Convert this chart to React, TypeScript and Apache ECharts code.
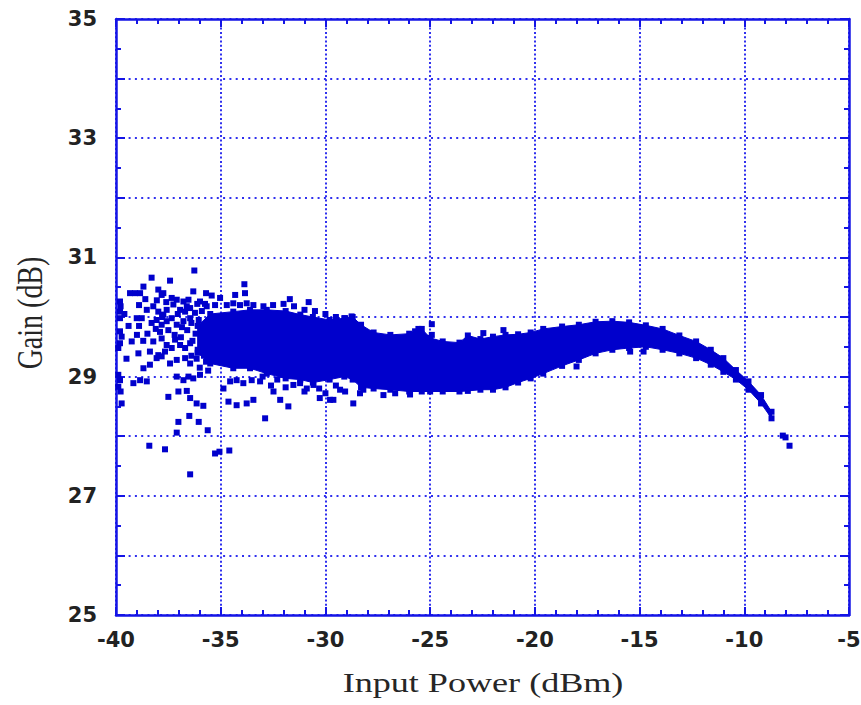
import React, { useEffect, useRef } from "react";
import * as echarts from "echarts";

// Dense core of the measured cloud: upper and lower edges read at each input power
const bandX = [-36.1, -35.5, -34.4, -33.6, -32.8, -31.9, -31.2, -30.6, -29.8, -29.1, -28.7, -28.3, -27.7, -26.9, -26.0, -25.4, -25.0, -24.4, -23.6, -23.2, -22.6, -22.0, -21.4, -20.8, -20.2, -19.6, -18.7, -17.9, -17.1, -16.3, -15.5, -14.7, -13.9, -13.1, -12.3, -11.6, -11.0, -10.4, -9.8, -9.2, -8.7];
const bandUpper = [29.85, 30.05, 30.09, 30.12, 30.12, 30.1, 30.04, 30.0, 29.95, 29.98, 30.0, 29.87, 29.74, 29.7, 29.72, 29.8, 29.65, 29.59, 29.57, 29.69, 29.63, 29.67, 29.7, 29.71, 29.74, 29.8, 29.84, 29.87, 29.92, 29.93, 29.91, 29.86, 29.8, 29.69, 29.59, 29.45, 29.31, 29.11, 28.92, 28.69, 28.41];
const bandLower = [29.4, 29.22, 29.14, 29.14, 29.05, 28.97, 28.95, 28.9, 28.95, 29.0, 28.95, 28.82, 28.8, 28.78, 28.75, 28.75, 28.75, 28.75, 28.75, 28.76, 28.78, 28.78, 28.82, 28.9, 28.97, 29.05, 29.18, 29.28, 29.39, 29.45, 29.48, 29.5, 29.45, 29.39, 29.31, 29.2, 29.08, 28.95, 28.78, 28.55, 28.3];

// Scattered individual measurements (input power dBm, gain dB)
const pointX = [
  -36.26, -38.3, -37.42, -33.87, -38.69, -39.33, -39.09, -38.85, -37.98, -37.74, -37.82, -36.31, -35.7, -35.43, -34.31, -33.84,
  -39.81, -39.78, -39.81, -39.81, -38.53, -38.22, -37.98, -37.74, -37.58, -37.34, -37.1, -36.78, -36.54,
  -36.94, -36.7, -36.46, -36.23, -35.99, -35.67, -35.27, -35.03, -34.71, -34.4, -34.08, -33.76, -33.44, -32.96,
  -39.01, -38.77, -38.3, -38.06, -37.82, -37.58, -37.34, -37.1, -36.78, -36.46,
  -39.81, -39.73, -39.81, -39.89, -39.25, -38.22, -37.82, -37.58, -37.18, -36.94, -36.7, -36.46,
  -38.93, -38.38, -37.98, -37.66, -37.34, -38.69, -38.38, -38.06, -37.82, -37.42, -37.1, -36.7, -36.46,
  -39.89, -39.81, -39.89, -39.78, -39.17, -38.85, -38.53, -37.1, -36.78, -36.54, -36.31, -35.99,
  -39.73, -37.5, -37.02, -36.62, -36.46, -36.15, -35.83,
  -34.87, -34.63, -34.24, -33.76, -33.44, -34.55, -34.24, -33.92, -33.52, -33.12, -32.88,
  -32.48, -32.16, -31.77, -31.53, -31.21, -30.89, -30.57, -30.27, -29.78,
  -37.02, -36.5, -36.05, -35.62, -37.1, -38.41, -37.66, -35.27, -35.06, -34.59, -36.46,
  -29.62, -28.67, -29.3, -29.06, -28.35, -28.19, -27.23, -26.67, -25.96, -25.48,
  -24.92, -25.72, -25.56, -22.46, -21.5, -29.06, -28.75, -29.46, -29.7, -24.92,
  -15.45, -14.81, -18.01, -8.16, -8.03, -7.84,
  -37.26, -37.05, -36.85, -36.62, -36.4, -36.2, -36.05, -36.12,
  -37.5, -37.2, -36.9, -36.6, -36.35, -36.1, -36.15, -36.4,
  -37.9, -38.1, -38.5, -38.7, -39.0, -39.4, -39.6, -39.5,
  -38.9, -38.6, -38.05, -37.6, -37.8, -38.9,
  -35.8, -35.7, -35.9, -35.75, -36.0, -35.6,
  -33.0, -32.6, -32.3, -31.9, -31.0, -30.3, -30.0, -29.5,
  -32.5, -32.0, -31.5, -31.0, -30.5, -30.0, -29.5, -31.7, -30.8,
];
const pointY = [
  30.78, 30.66, 30.61, 30.55, 30.51, 30.4, 30.4, 30.4, 30.46, 30.4, 30.37, 30.43, 30.4, 30.36, 30.37, 30.4,
  30.26, 30.18, 30.09, 29.98, 30.12, 30.18, 30.09, 30.04, 30.12, 30.32, 30.29, 30.26, 30.29,
  30.12, 30.09, 30.15, 30.07, 30.26, 30.18, 30.2, 30.32, 30.2, 30.23, 30.2, 30.23, 30.2, 30.18,
  29.98, 29.98, 29.9, 29.95, 29.87, 29.93, 29.98, 29.87, 29.93, 29.98,
  29.76, 29.67, 29.56, 29.48, 29.59, 29.59, 29.64, 29.53, 29.62, 29.53, 29.48, 29.56,
  29.39, 29.42, 29.36, 29.42, 29.48, 29.14, 29.2, 29.31, 29.34, 29.22, 29.28, 29.31, 29.22,
  29.03, 28.94, 28.83, 28.75, 28.89, 28.94, 28.92, 29.0, 28.94, 29.0, 28.97, 29.03,
  28.55, 28.66, 28.75, 28.76, 28.64, 28.55, 28.51,
  28.8, 28.58, 28.52, 28.55, 28.61, 28.92, 28.94, 28.89, 28.94, 28.92, 28.3,
  28.75, 28.61, 28.5, 28.86, 28.89, 28.8, 28.86, 28.64, 28.61,
  28.24, 28.34, 28.24, 28.1, 28.06, 27.84, 27.78, 27.71, 27.74, 27.76, 27.36,
  28.61, 28.55, 28.78, 28.75, 28.72, 28.78, 28.69, 28.72, 28.7, 28.96,
  29.88, 29.76, 29.8, 29.73, 29.78, 29.98, 30.01, 29.95, 29.9, 29.7,
  29.42, 29.42, 29.17, 28.01, 27.98, 27.84,
  30.21, 30.05, 29.83, 30.18, 29.9, 29.72, 29.95, 30.22,
  29.78, 29.7, 29.66, 29.78, 29.6, 29.45, 29.3, 29.35,
  29.75, 29.8, 29.72, 29.6, 29.7, 29.85, 30.05, 29.3,
  30.2, 30.3, 30.28, 30.25, 30.0, 29.85,
  29.35, 29.25, 30.1, 30.22, 29.15, 29.1,
  29.0, 28.85, 28.95, 28.82, 28.75, 28.8, 28.72, 28.85,
  30.2, 30.22, 30.18, 30.12, 30.1, 30.05, 30.0, 30.3, 30.25,
];

const BLUE = "#0000cc";
const AXIS = "#1414e6";
const GRID = "#3030ee";
const TXT = "#222222";

export default function App() {
  const ref = useRef<HTMLDivElement>(null);

  useEffect(() => {
    if (!ref.current) return;
    const chart = echarts.init(ref.current, undefined, { renderer: "svg" });

    const scatterData = pointX.map((x, i) => [x, pointY[i]]);
    const edgeData = bandX
      .map((x, i) => [x, bandUpper[i]])
      .concat(bandX.map((x, i) => [x, bandLower[i]]));

    const tickLabel = {
      fontFamily: "DejaVu Sans",
      fontWeight: "bold" as const,
      fontSize: 21,
      color: TXT,
    };

    const xBase = {
      type: "value" as const,
      min: -40,
      max: -5,
      interval: 5,
      axisLine: { show: true, onZero: false, lineStyle: { color: AXIS, width: 2.5 } },
      axisTick: { show: true, inside: true, length: 8, lineStyle: { color: AXIS, width: 2 } },
      minorTick: { show: true, splitNumber: 5, length: 5, lineStyle: { color: AXIS, width: 2 } },
    };
    const yBase = {
      type: "value" as const,
      min: 25,
      max: 35,
      interval: 1,
      axisLine: { show: true, onZero: false, lineStyle: { color: AXIS, width: 2.5 } },
      axisTick: { show: true, inside: true, length: 9, lineStyle: { color: AXIS, width: 2 } },
      minorTick: { show: true, splitNumber: 2, length: 5, lineStyle: { color: AXIS, width: 2 } },
    };

    chart.setOption({
      animation: false,
      backgroundColor: "#ffffff",
      grid: {
        left: 116,
        top: 19,
        right: 12,
        bottom: 90,
        containLabel: false,
        outerBoundsMode: "none",
      },
      xAxis: [
        {
          ...xBase,
          position: "bottom",
          splitLine: { show: true, lineStyle: { color: GRID, width: 2, type: [2, 2.3] } },
          axisLabel: { ...tickLabel, margin: 14 },
        },
        {
          ...xBase,
          position: "top",
          splitLine: { show: false },
          axisLabel: { show: false },
        },
      ],
      yAxis: [
        {
          ...yBase,
          position: "left",
          splitLine: { show: true, lineStyle: { color: GRID, width: 2, type: [2, 4.3] } },
          axisLabel: {
            ...tickLabel,
            margin: 19,
            formatter: (v: number) => (Math.round(v) % 2 !== 0 ? String(v) : ""),
          },
        },
        {
          ...yBase,
          position: "right",
          splitLine: { show: false },
          axisLabel: { show: false },
        },
      ],
      graphic: [
        {
          type: "text",
          x: 483,
          y: 682,
          scaleX: 1.29,
          style: {
            text: "Input Power (dBm)",
            font: "28px 'Liberation Serif'",
            fill: "#262626",
            textAlign: "center",
            textVerticalAlign: "middle",
          },
        },
        {
          type: "text",
          x: 30,
          y: 313,
          rotation: Math.PI / 2,
          scaleY: 1.25,
          style: {
            text: "Gain (dB)",
            font: "28px 'Liberation Serif'",
            fill: "#262626",
            textAlign: "center",
            textVerticalAlign: "middle",
          },
        },
      ],
      series: [
        {
          type: "custom",
          xAxisIndex: 0,
          yAxisIndex: 0,
          clip: true,
          silent: true,
          data: [[-20, 29]],
          renderItem: (_params: any, api: any) => {
            const top = bandX.map((x, i) => api.coord([x, bandUpper[i]]));
            const bottom = bandX.map((x, i) => api.coord([x, bandLower[i]])).reverse();
            return {
              type: "polygon",
              shape: { points: top.concat(bottom) },
              style: { fill: BLUE, stroke: BLUE, lineWidth: 1 },
            };
          },
        },
        {
          type: "scatter",
          xAxisIndex: 0,
          yAxisIndex: 0,
          symbol: "rect",
          symbolSize: [6, 6],
          itemStyle: { color: BLUE, opacity: 1 },
          data: edgeData,
          silent: true,
        },
        {
          type: "scatter",
          xAxisIndex: 0,
          yAxisIndex: 0,
          symbol: "rect",
          symbolSize: [6, 6],
          itemStyle: { color: BLUE, opacity: 1 },
          data: scatterData,
          silent: true,
        },
      ],
    });

    return () => chart.dispose();
  }, []);

  return (
    <div
      ref={ref}
      style={{ position: "fixed", left: 0, top: 0, width: 861, height: 705, background: "#fff" }}
    />
  );
}
